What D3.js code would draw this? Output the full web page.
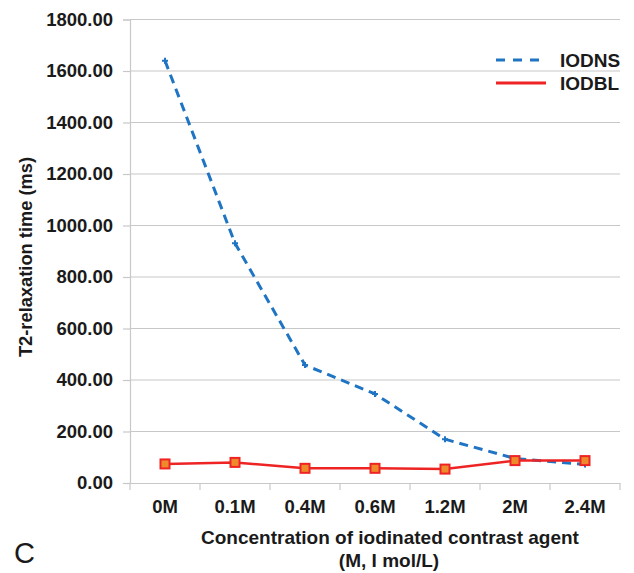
<!DOCTYPE html>
<html>
<head>
<meta charset="utf-8">
<script src="https://cdn.jsdelivr.net/npm/d3@7"></script>
<style>
  body { margin: 0; background: #fff; }
  svg { font-family: "Liberation Sans", Arial, sans-serif; }
</style>
</head>
<body>
<div id="chart"></div>
<script>
const categories = ['0M', '0.1M', '0.4M', '0.6M', '1.2M', '2M', '2.4M'];
const iodns = [1640, 931, 458, 346, 170, 95, 72];
const iodbl = [74, 80, 57, 57, 54, 87, 87];
const yTicks = [0, 200, 400, 600, 800, 1000, 1200, 1400, 1600, 1800];

const width = 634, height = 573;
const plotLeft = 130, plotRight = 620, plotTop = 19.5, plotBottom = 483;

const svg = d3.select('#chart').append('svg')
  .attr('width', width).attr('height', height);

const x = d3.scaleBand().domain(categories).range([plotLeft, plotRight]);
const y = d3.scaleLinear().domain([0, 1800]).range([plotBottom, plotTop]);

// gridlines
svg.append('g').selectAll('line')
  .data(yTicks.filter(d => d > 0))
  .enter().append('line')
  .attr('x1', plotLeft).attr('x2', plotRight)
  .attr('y1', d => y(d)).attr('y2', d => y(d))
  .attr('stroke', '#c8c8c8').attr('stroke-width', 1.2);

// y axis
const yAxis = svg.append('g')
  .attr('transform', `translate(${plotLeft},0)`)
  .call(d3.axisLeft(y).tickValues(yTicks).tickFormat(d3.format('.2f')).tickSize(7).tickPadding(10));
yAxis.select('.domain').attr('stroke', '#c8c8c8').attr('stroke-width', 1.2);
yAxis.selectAll('.tick line').attr('stroke', '#c8c8c8').attr('stroke-width', 1.2);
yAxis.selectAll('.tick text')
  .attr('font-size', 18.5).attr('font-weight', 'bold').attr('fill', '#1a1a1a')
  .attr('font-family', '"Liberation Sans", Arial, sans-serif');

// x axis
const xAxis = svg.append('g')
  .attr('transform', `translate(0,${plotBottom})`)
  .call(d3.axisBottom(x).tickSize(0).tickPadding(17));
xAxis.select('.domain').attr('stroke', '#c8c8c8').attr('stroke-width', 1.2);
xAxis.selectAll('.tick text')
  .attr('font-size', 18.5).attr('font-weight', 'bold').attr('fill', '#1a1a1a')
  .attr('font-family', '"Liberation Sans", Arial, sans-serif');
// category boundary ticks
xAxis.append('g').selectAll('line')
  .data(categories.concat(['end']))
  .enter().append('line')
  .attr('x1', (d, i) => plotLeft + i * x.bandwidth())
  .attr('x2', (d, i) => plotLeft + i * x.bandwidth())
  .attr('y1', 0).attr('y2', 7)
  .attr('stroke', '#c8c8c8').attr('stroke-width', 1.2);

const cx = d => x(d) + x.bandwidth() / 2;

// IODNS dashed line
svg.append('path')
  .datum(iodns)
  .attr('fill', 'none')
  .attr('stroke', '#1f74c4')
  .attr('stroke-width', 3)
  .attr('stroke-dasharray', '9,6')
  .attr('d', d3.line().x((d, i) => cx(categories[i])).y(d => y(d)));

svg.append('g').selectAll('path')
  .data(iodns)
  .enter().append('path')
  .attr('transform', (d, i) => `translate(${cx(categories[i])},${y(d)})`)
  .attr('d', d3.symbol().type(d3.symbolCross).size(20))
  .attr('fill', '#1f74c4');

// IODBL solid line
svg.append('path')
  .datum(iodbl)
  .attr('fill', 'none')
  .attr('stroke', '#ee2424')
  .attr('stroke-width', 2.5)
  .attr('d', d3.line().x((d, i) => cx(categories[i])).y(d => y(d)));

svg.append('g').selectAll('rect')
  .data(iodbl)
  .enter().append('rect')
  .attr('x', (d, i) => cx(categories[i]) - 4.5)
  .attr('y', d => y(d) - 4.5)
  .attr('width', 9).attr('height', 9)
  .attr('fill', '#ef8a2c')
  .attr('stroke', '#ee2424')
  .attr('stroke-width', 2);

// legend
const legend = svg.append('g');
legend.append('line')
  .attr('x1', 496).attr('x2', 546).attr('y1', 60).attr('y2', 60)
  .attr('stroke', '#1f74c4').attr('stroke-width', 3).attr('stroke-dasharray', '9,8');
legend.append('line')
  .attr('x1', 496).attr('x2', 546).attr('y1', 83).attr('y2', 83)
  .attr('stroke', '#ee2424').attr('stroke-width', 3);
legend.append('text').attr('x', 560).attr('y', 67)
  .attr('font-size', 19).attr('font-weight', 'bold').attr('fill', '#1a1a1a').text('IODNS');
legend.append('text').attr('x', 560).attr('y', 90)
  .attr('font-size', 19).attr('font-weight', 'bold').attr('fill', '#1a1a1a').text('IODBL');

// axis titles
svg.append('text')
  .attr('transform', 'translate(32,257) rotate(-90)')
  .attr('text-anchor', 'middle')
  .attr('font-size', 18.3).attr('font-weight', 'bold').attr('fill', '#1a1a1a')
  .text('T2-relaxation time (ms)');

svg.append('text')
  .attr('x', 390).attr('y', 544)
  .attr('text-anchor', 'middle')
  .attr('font-size', 19).attr('font-weight', 'bold').attr('fill', '#1a1a1a')
  .text('Concentration of iodinated contrast agent');
svg.append('text')
  .attr('x', 389).attr('y', 567)
  .attr('text-anchor', 'middle')
  .attr('font-size', 19).attr('font-weight', 'bold').attr('fill', '#1a1a1a')
  .text('(M, I mol/L)');

// panel label
svg.append('text')
  .attr('x', 14).attr('y', 563)
  .attr('font-size', 29).attr('fill', '#1a1a1a')
  .text('C');
</script>
</body>
</html>
